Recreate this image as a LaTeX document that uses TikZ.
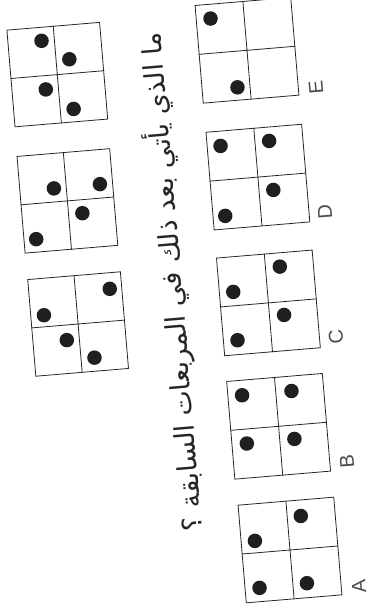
\documentclass[tikz,border=0pt]{standalone}
\usepackage{fontspec}
\setmainfont{Liberation Sans}
\newfontfamily\arabicfont[Script=Arabic]{DejaVu Sans}
\TeXXeTstate=1
\tikzset{
  gbox/.style={draw=black!85, line width=0.8pt, rectangle, inner sep=0pt, rotate=4.8},
  qbox/.style={gbox, minimum width=93pt, minimum height=97pt},
  abox/.style={gbox, minimum width=96pt, minimum height=98pt},
  gline/.style={draw=black!85, line width=0.8pt},
  gdot/.style={circle, fill=black!88, inner sep=0pt, minimum size=14.5pt},
  optlabel/.style={font=\fontsize{20}{20}\selectfont, text=black!70, rotate=94.8, inner sep=0pt},
  question/.style={font=\arabicfont\fontsize{27}{31}\selectfont, text=black!85, rotate=94.8, inner sep=0pt}
}
\newcommand{\gridbox}[5]{% style, name, cx, cy, dots
  \node[#1] (#2) at (#3,#4) {};
  \draw[gline] (#2.north) -- (#2.south) (#2.west) -- (#2.east);
  \begin{scope}[shift={(#2.center)}, rotate=4.8]
    \foreach \u/\v [count=\i] in {#5} \node[gdot] (#2-d\i) at (\u,\v) {};
  \end{scope}
}
\begin{document}
\begin{tikzpicture}[x=1pt, y=-1pt]
\useasboundingbox[fill=white] (0,0) rectangle (382,611);
% question sequence
\gridbox{qbox}{q1}{57.3}{74.6}{-12.9/-35, 13.3/-14.3, -12.7/13.8, 13.4/35.6}
\gridbox{qbox}{q2}{67.4}{200.9}{-12.4/-13.6, 33.8/-14, 13.9/13.5, -34.3/35.5}
\gridbox{qbox}{q3}{78.1}{324}{34.5/-32.4, -33.3/-11.6, -12.6/15.1, 13.5/34.9}
% question text
\node[question] (txt) at (171,282) {\beginR ما الذي يأتي بعد ذلك في المربعات السابقة ؟\endR};
% options
\gridbox{abox}{E}{247}{50.3}{-33.7/-34.7, -12.6/36.1}
\gridbox{abox}{D}{257.9}{177.1}{-34.6/-34.2, 14.2/-35.1, 14.3/14.1, -35.8/35.9}
\gridbox{abox}{C}{268.4}{302.9}{14.4/-35.2, -34.1/-13.9, 14.6/13.3, -33.9/34.6}
\gridbox{abox}{B}{278.6}{426.3}{-33.8/-34, 15.8/-34.1, -33.1/14.5, 14.7/13.9}
\gridbox{abox}{A}{290}{550}{13.6/-33, -34.2/-12, 14.1/34.5, -33.5/35.2}
\node[optlabel] (lE) at (316,87) {E};
\node[optlabel] (lD) at (325,212) {D};
\node[optlabel] (lC) at (336,337) {C};
\node[optlabel] (lB) at (347,461) {B};
\node[optlabel] (lA) at (359,586) {A};
\end{tikzpicture}
\end{document}
